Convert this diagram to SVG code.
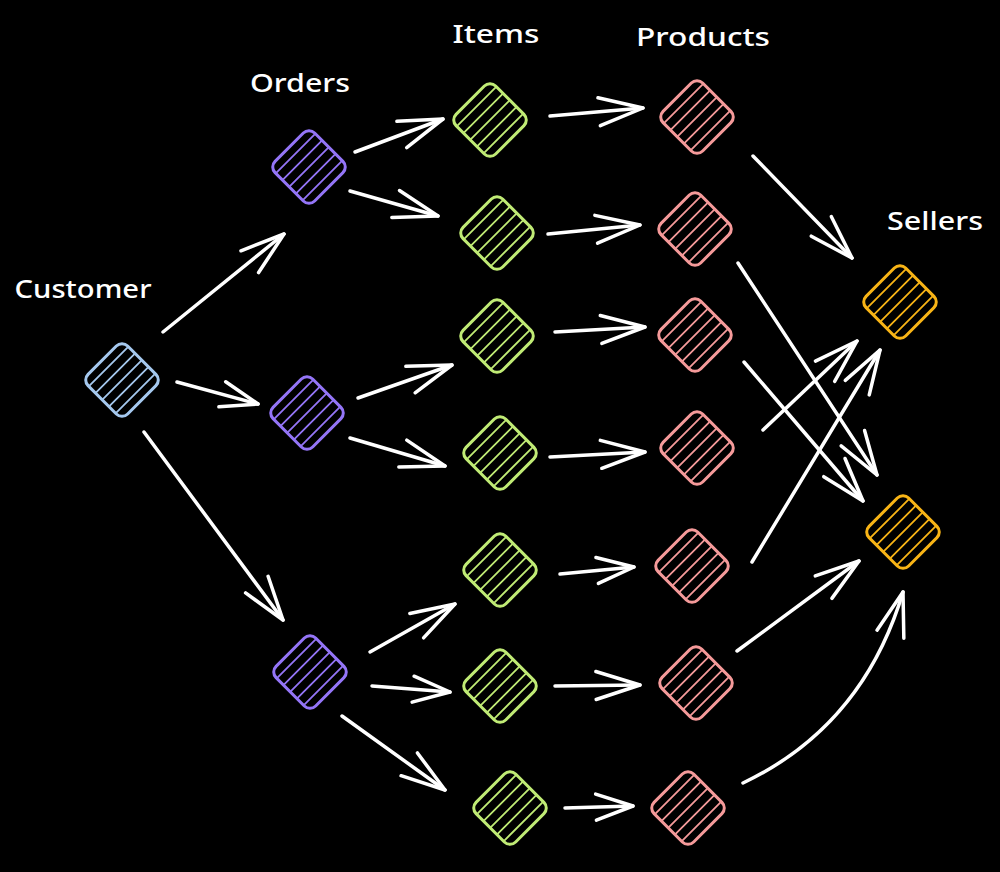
<svg xmlns="http://www.w3.org/2000/svg" xmlns:xlink="http://www.w3.org/1999/xlink" width="1000" height="872" viewBox="0 0 1000 872">
  <style>
    .lbl { font-family: "Noto Sans", "Liberation Sans", sans-serif; font-size: 26px; font-weight: 500; fill: #ffffff; text-anchor: middle; }
    .arr { fill: none; stroke: #ffffff; stroke-width: 3.5; stroke-linecap: round; stroke-linejoin: round; marker-end: url(#head); }
    .arrS { marker-end: url(#headS); }
    .cust { color: #a5c8ee; }
    .ord { color: #9475f7; }
    .item { color: #c0eb75; }
    .prod { color: #f59a9a; }
    .sell { color: #f8b416; }
  </style>
  <defs>
    <marker id="head" markerUnits="userSpaceOnUse" orient="auto" markerWidth="60" markerHeight="40" refX="0" refY="0" viewBox="-50 -20 60 40" overflow="visible">
      <path d="M-44,-14 L0,0 L-44,14" fill="none" stroke="#ffffff" stroke-width="3.5" stroke-linecap="round" stroke-linejoin="round"/>
    </marker>
    <marker id="headS" markerUnits="userSpaceOnUse" orient="auto" markerWidth="60" markerHeight="40" refX="0" refY="0" viewBox="-50 -20 60 40" overflow="visible">
      <path d="M-37,-13 L0,0 L-37,13" fill="none" stroke="#ffffff" stroke-width="3.5" stroke-linecap="round" stroke-linejoin="round"/>
    </marker>
    <g id="node" transform="rotate(45)" fill="none" stroke="currentColor" stroke-linecap="round">
      <rect x="-28" y="-28" width="56" height="56" rx="8" stroke-width="3"/>
      <path d="M-19,-27 V27 M-9.5,-27 V27 M0,-27 V27 M9.5,-27 V27 M19,-27 V27" stroke-width="1.8"/>
    </g>
  </defs>
  <rect x="0" y="0" width="1000" height="872" fill="#000000"/>

  <g id="labels">
    <text class="lbl" x="83" y="298" textLength="137" lengthAdjust="spacingAndGlyphs">Customer</text>
    <text class="lbl" x="300" y="92" textLength="100" lengthAdjust="spacingAndGlyphs">Orders</text>
    <text class="lbl" x="496" y="43" textLength="87" lengthAdjust="spacingAndGlyphs">Items</text>
    <text class="lbl" x="703" y="46" textLength="134" lengthAdjust="spacingAndGlyphs">Products</text>
    <text class="lbl" x="935" y="230" textLength="96" lengthAdjust="spacingAndGlyphs">Sellers</text>
  </g>

  <g id="customer" class="cust"><use xlink:href="#node" href="#node" transform="translate(122,380)"/></g>

  <g id="order1" class="ord"><use xlink:href="#node" href="#node" transform="translate(309,167)"/></g>
  <g id="order2" class="ord"><use xlink:href="#node" href="#node" transform="translate(307,413)"/></g>
  <g id="order3" class="ord"><use xlink:href="#node" href="#node" transform="translate(310,672)"/></g>

  <g id="item1" class="item"><use xlink:href="#node" href="#node" transform="translate(490,120)"/></g>
  <g id="item2" class="item"><use xlink:href="#node" href="#node" transform="translate(497,233)"/></g>
  <g id="item3" class="item"><use xlink:href="#node" href="#node" transform="translate(497,336)"/></g>
  <g id="item4" class="item"><use xlink:href="#node" href="#node" transform="translate(500,453)"/></g>
  <g id="item5" class="item"><use xlink:href="#node" href="#node" transform="translate(500,570)"/></g>
  <g id="item6" class="item"><use xlink:href="#node" href="#node" transform="translate(500,686)"/></g>
  <g id="item7" class="item"><use xlink:href="#node" href="#node" transform="translate(510,808)"/></g>

  <g id="product1" class="prod"><use xlink:href="#node" href="#node" transform="translate(697,117)"/></g>
  <g id="product2" class="prod"><use xlink:href="#node" href="#node" transform="translate(695,229)"/></g>
  <g id="product3" class="prod"><use xlink:href="#node" href="#node" transform="translate(695,335)"/></g>
  <g id="product4" class="prod"><use xlink:href="#node" href="#node" transform="translate(697,448)"/></g>
  <g id="product5" class="prod"><use xlink:href="#node" href="#node" transform="translate(692,566)"/></g>
  <g id="product6" class="prod"><use xlink:href="#node" href="#node" transform="translate(696,683)"/></g>
  <g id="product7" class="prod"><use xlink:href="#node" href="#node" transform="translate(688,808)"/></g>

  <g id="seller1" class="sell"><use xlink:href="#node" href="#node" transform="translate(900,302)"/></g>
  <g id="seller2" class="sell"><use xlink:href="#node" href="#node" transform="translate(903,532)"/></g>

  <g id="connectors">
    <path class="arr" d="M163,332 L284,234"/>
    <path class="arr arrS" d="M177,382 L258,404"/>
    <path class="arr" d="M144,432 L283,620"/>
    <path class="arr" d="M355,152 L443,119"/>
    <path class="arr" d="M350,191 L438,216"/>
    <path class="arr" d="M358,398 L452,365"/>
    <path class="arr" d="M350,438 L445,466"/>
    <path class="arr" d="M370,652 L455,604"/>
    <path class="arr arrS" d="M372,686 L450,692"/>
    <path class="arr" d="M342,716 L445,790"/>
    <path class="arr" d="M550,116 L643,108"/>
    <path class="arr" d="M548,234 L640,225"/>
    <path class="arr" d="M555,332 L645,327"/>
    <path class="arr" d="M550,457 L645,452"/>
    <path class="arr arrS" d="M560,574 L634,567"/>
    <path class="arr" d="M555,686 L640,685"/>
    <path class="arr arrS" d="M565,808 L633,806"/>
    <path class="arr" d="M753,156 L852,258"/>
    <path class="arr" d="M738,263 L877,475"/>
    <path class="arr" d="M744,362 L863,501"/>
    <path class="arr" d="M763,430 L857,341"/>
    <path class="arr" d="M752,562 L880,350"/>
    <path class="arr" d="M737,651 L859,561"/>
    <path class="arr" d="M743,783 Q863,726 903,592"/>
  </g>
</svg>
